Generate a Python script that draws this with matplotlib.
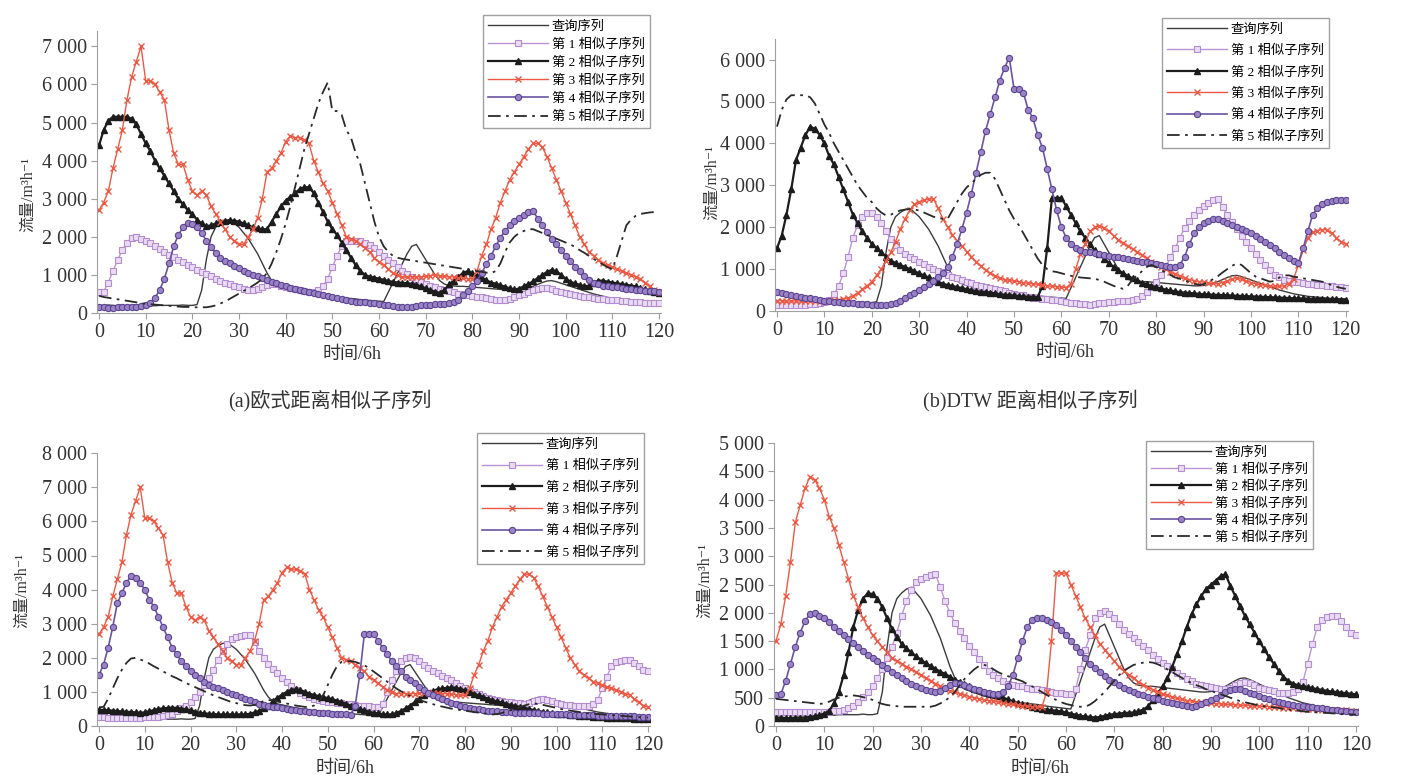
import numpy as np
import matplotlib
matplotlib.use('Agg')
import matplotlib.pyplot as plt
from matplotlib import ticker as mplticker

plt.rcParams['font.family'] = ['Liberation Serif', 'Noto Sans CJK SC', 'DejaVu Sans']

W, H = 1407, 780
t = np.arange(121)

# query sequence (same in every panel)
query = [200, 200, 210, 200, 190, 200, 200, 200, 210, 200,
         200, 200, 190, 200, 200, 200, 200, 200, 210, 200,
         200, 220, 600, 1400, 2000, 2250, 2350, 2420, 2450, 2350,
         2250, 2100, 1950, 1750, 1550, 1300, 1050, 850, 720, 650,
         620, 590, 560, 530, 510, 490, 470, 450, 440, 430,
         420, 410, 400, 390, 380, 370, 350, 340, 330, 320,
         310, 300, 550, 800, 1050, 1300, 1550, 1750, 1800, 1600,
         1400, 1200, 1000, 850, 760, 720, 710, 700, 700, 690,
         680, 670, 660, 650, 640, 630, 620, 610, 600, 600,
         610, 630, 660, 700, 750, 800, 840, 850, 820, 780,
         740, 700, 660, 620, 580, 540, 500, 470, 440, 410,
         390, 370, 350, 340, 330, 320, 310, 300, 300, 290, 290]

# candidate subsequences (several reappear in more than one panel)
sub_2000 = [550, 560, 800, 1100, 1400, 1650, 1850, 1980, 2000, 1950,
            1900, 1830, 1750, 1680, 1600, 1530, 1460, 1400, 1330, 1260,
            1200, 1140, 1080, 1020, 960, 900, 850, 800, 750, 700,
            670, 640, 610, 600, 620, 680, 730, 760, 750, 720,
            690, 660, 630, 600, 580, 560, 560, 600, 700, 900,
            1200, 1500, 1750, 1880, 1900, 1900, 1880, 1830, 1780, 1700,
            1600, 1500, 1400, 1300, 1200, 1100, 1020, 950, 880, 820,
            770, 720, 680, 640, 600, 570, 540, 510, 490, 470,
            450, 430, 410, 390, 370, 350, 340, 350, 380, 420,
            460, 500, 550, 600, 640, 660, 650, 620, 590, 560,
            530, 500, 470, 450, 430, 410, 390, 370, 360, 350,
            340, 330, 320, 310, 300, 290, 280, 270, 260, 250, 250]

sub_5100 = [4400, 4800, 5050, 5150, 5150, 5150, 5150, 5100, 4950, 4700,
            4450, 4250, 4000, 3800, 3600, 3400, 3200, 3000, 2850, 2700,
            2600, 2450, 2350, 2280, 2300, 2350, 2400, 2420, 2430, 2420,
            2400, 2350, 2300, 2250, 2220, 2200, 2200, 2400, 2600, 2800,
            2950, 3050, 3150, 3250, 3300, 3300, 3150, 2900, 2650, 2400,
            2200, 2050, 1850, 1650, 1450, 1250, 1100, 1000, 950, 930,
            900, 870, 840, 820, 800, 790, 780, 770, 740, 700,
            650, 600, 560, 530, 600, 750, 850, 950, 1050, 1100,
            1050, 980, 920, 860, 800, 770, 730, 690, 650, 620,
            640, 700, 760, 830, 920, 1000, 1080, 1130, 1100, 1000,
            900, 820, 780, 740, 700, 720, 800, 850, 850, 820,
            800, 780, 760, 740, 720, 700, 660, 620, 580, 550, 530]

sub_7000 = [2700, 2900, 3200, 3800, 4300, 4800, 5600, 6200, 6600, 7000,
            6100, 6100, 6000, 5800, 5600, 4800, 4200, 3900, 3900, 3500,
            3200, 3100, 3200, 3100, 2800, 2600, 2400, 2200, 2000, 1900,
            1800, 1800, 2000, 2200, 2500, 3000, 3700, 3800, 4000, 4200,
            4500, 4650, 4600, 4600, 4550, 4450, 4000, 3700, 3400, 3200,
            2900, 2600, 2300, 2000, 1950, 1900, 1800, 1700, 1600, 1450,
            1350, 1250, 1150, 1050, 1000, 950, 950, 950, 950, 950,
            960, 980, 1000, 970, 960, 950, 950, 930, 920, 900,
            900, 1100, 1500, 1800, 2200, 2500, 2900, 3200, 3500, 3700,
            3900, 4100, 4300, 4450, 4450, 4350, 4100, 3800, 3500, 3200,
            2900, 2600, 2300, 2000, 1800, 1600, 1500, 1400, 1300, 1250,
            1200, 1150, 1100, 1050, 1000, 950, 900, 800, 700, 600, 550]

sub_2350 = [150, 150, 140, 140, 150, 150, 150, 160, 170, 190,
            220, 270, 400, 600, 900, 1300, 1750, 2050, 2250, 2350,
            2330, 2250, 2100, 1900, 1720, 1580, 1450, 1370, 1300, 1230,
            1170, 1110, 1060, 1010, 960, 920, 870, 820, 780, 740,
            700, 660, 630, 600, 570, 550, 530, 500, 470, 440,
            410, 390, 370, 340, 320, 300, 290, 280, 270, 260,
            240, 220, 200, 180, 170, 160, 150, 160, 180, 200,
            210, 220, 230, 235, 240, 260, 290, 350, 460, 580,
            700, 850, 1050, 1280, 1500, 1750, 1980, 2150, 2300, 2420,
            2500, 2570, 2650, 2680, 2480, 2300, 2120, 1950, 1800, 1650,
            1500, 1360, 1220, 1100, 980, 870, 800, 750, 720, 700,
            690, 670, 650, 640, 620, 610, 600, 590, 580, 570, 560]

sub_6000 = [450, 420, 400, 380, 360, 340, 320, 300, 280, 260,
            240, 230, 220, 210, 200, 190, 180, 170, 160, 160,
            150, 150, 150, 150, 170, 200, 250, 300, 370, 440,
            510, 580, 650, 720, 800, 900, 1050, 1300, 1600, 1950,
            2350, 2800, 3300, 3800, 4300, 4700, 5100, 5500, 5800, 6050,
            5300, 5300, 5200, 4800, 4600, 4200, 3900, 3400, 2900, 2400,
            2000, 1750, 1600, 1500, 1450, 1420, 1400, 1380, 1360, 1340,
            1320, 1300, 1280, 1260, 1240, 1220, 1200, 1180, 1160, 1140,
            1120, 1100, 1080, 1060, 1050, 1100, 1300, 1600, 1850, 2000,
            2100, 2150, 2200, 2200, 2150, 2100, 2050, 2000, 1950, 1900,
            1850, 1800, 1730, 1650, 1580, 1500, 1420, 1340, 1270, 1200,
            1150, 1500, 1900, 2300, 2450, 2550, 2600, 2620, 2640, 2650, 2650]

sub_4400 = [1500, 1800, 2300, 2900, 3600, 3900, 4200, 4400, 4350, 4200,
            4000, 3700, 3500, 3200, 2900, 2600, 2300, 2100, 1900, 1750,
            1600, 1500, 1400, 1300, 1200, 1150, 1100, 1050, 1000, 950,
            900, 850, 800, 750, 700, 650, 620, 600, 570, 550,
            520, 500, 480, 460, 450, 440, 420, 400, 390, 380,
            370, 360, 350, 340, 340, 330, 600, 1500, 2700, 2700,
            2700, 2500, 2300, 2100, 1900, 1750, 1600, 1450, 1350, 1250,
            1150, 1050, 980, 900, 840, 780, 730, 680, 640, 600,
            570, 540, 510, 490, 470, 450, 440, 430, 420, 410,
            400, 395, 390, 385, 380, 375, 370, 365, 360, 355,
            350, 345, 340, 335, 330, 325, 320, 315, 310, 305,
            300, 300, 295, 290, 290, 285, 280, 280, 275, 270, 270]

sub_2650 = [250, 250, 240, 240, 240, 240, 240, 240, 240, 240,
            250, 250, 260, 270, 280, 310, 360, 430, 520, 600,
            700, 850, 1000, 1200, 1400, 1650, 1950, 2200, 2400, 2550,
            2600, 2640, 2670, 2680, 2450, 2200, 2000, 1820, 1680, 1550,
            1420, 1300, 1180, 1070, 970, 900, 840, 790, 750, 730,
            710, 700, 680, 660, 650, 640, 620, 600, 590, 580,
            570, 560, 650, 1000, 1350, 1600, 1900, 2000, 2030, 1980,
            1900, 1800, 1700, 1620, 1550, 1480, 1410, 1340, 1260, 1180,
            1120, 1060, 1000, 940, 880, 830, 790, 750, 720, 700,
            690, 670, 660, 650, 680, 720, 760, 780, 760, 720,
            680, 650, 630, 610, 590, 590, 590, 600, 650, 770,
            1100, 1450, 1750, 1880, 1920, 1940, 1940, 1850, 1750, 1650, 1600]

sub_1100 = [480, 470, 460, 450, 440, 430, 420, 410, 400, 390,
            400, 430, 470, 500, 520, 530, 540, 530, 510, 490,
            460, 420, 390, 370, 360, 350, 340, 340, 340, 340,
            340, 340, 340, 360, 400, 440, 520, 600, 720, 830,
            920, 1000, 1060, 1080, 1060, 1000, 950, 910, 880, 850,
            820, 790, 740, 700, 650, 600, 550, 500, 460, 420,
            390, 370, 350, 340, 340, 380, 440, 520, 600, 700,
            800, 900, 980, 1030, 1080, 1100, 1120, 1130, 1120, 1090,
            1050, 1000, 950, 900, 850, 800, 760, 720, 690, 650,
            620, 590, 560, 530, 500, 470, 440, 420, 400, 380,
            360, 350, 340, 330, 320, 300, 290, 280, 270, 260,
            250, 245, 240, 235, 230, 225, 220, 215, 210, 205, 200]

labels = ['查询序列', '第 1 相似子序列', '第 2 相似子序列',
          '第 3 相似子序列', '第 4 相似子序列', '第 5 相似子序列']

styles = [
    dict(color='#3c3c3c', lw=1.0),
    dict(color='#b995d6', lw=1.0, marker='s', ms=4, mfc='#e9dcf3', mec='#b48cd2', mew=0.8),
    dict(color='#1c1c1c', lw=1.6, marker='^', ms=4.5, mfc='#1c1c1c', mec='#1c1c1c'),
    dict(color='#ec5a45', lw=1.0, marker='x', ms=4.5, mew=1.0),
    dict(color='#6b54a3', lw=1.2, marker='o', ms=4.5, mfc='#9a83c4', mec='#5b4393', mew=0.8),
    dict(color='#2a2a2a', lw=1.3, ls=(0, (7, 3, 1.5, 3))),
]

# x0 px of t=0, px per step, y0 px of 0, px per 1000, ymax, ytick step, legend top-left px
panels = [
    dict(series=[query, sub_2000, sub_5100, sub_7000, sub_2350, sub_6000],
         x0=99, dx=4.667, y0=313, dy=38.1, ymax=7400, ystep=1000,
         leg=(483, 15), legsp=0.43, ylab=(28, 195), xlab=(352, 355)),
    dict(series=[query, sub_2350, sub_4400, sub_2650, sub_6000, sub_5100],
         x0=777, dx=4.74, y0=311, dy=41.9, ymax=6500, ystep=1000,
         leg=(1162, 18), legsp=0.68, ylab=(712, 182), xlab=(1065, 353)),
    dict(series=[query, sub_2650, sub_1100, sub_7000, sub_4400, sub_2000],
         x0=99, dx=4.575, y0=726, dy=34.1, ymax=8000, ystep=1000,
         leg=(477, 433), legsp=0.7, ylab=(22, 590), xlab=(345, 768)),
    dict(series=[query, sub_2650, sub_2350, sub_4400, sub_2000, sub_1100],
         x0=776, dx=4.833, y0=726, dy=56.6, ymax=5000, ystep=500,
         leg=(1146, 441), legsp=0.35, ylab=(705, 580), xlab=(1040, 768)),
]

fig = plt.figure(figsize=(W / 100, H / 100), dpi=100)

for p in panels:
  left = (p['x0'] - 0.5 * p['dx']) / W
  width = 121 * p['dx'] / W
  bottom = (H - p['y0']) / H
  height = p['ymax'] / 1000 * p['dy'] / H
  ax = fig.add_axes([left, bottom, width, height])

  for vals, lab, st in zip(p['series'], labels, styles):
    ax.plot(t, vals, label=lab, **st)

  ax.set_xlim(-0.5, 120.5)
  ax.set_ylim(0, p['ymax'])
  ax.set_xticks(range(0, 121, 10))
  ax.yaxis.set_major_locator(mplticker.MultipleLocator(p['ystep']))
  ax.yaxis.set_major_formatter(mplticker.FuncFormatter(lambda y, _: '{:,.0f}'.format(y).replace(',', ' ')))
  for s in ['top', 'right']:
    ax.spines[s].set_visible(False)
  for s in ['left', 'bottom']:
    ax.spines[s].set_color('#a0a0a0')
  ax.tick_params(direction='out', length=4, color='#a0a0a0', labelsize=14.5, labelcolor='#333333', pad=3)

  lx, ly = p['leg']
  ax.legend(loc='upper left', bbox_to_anchor=(lx / W, 1 - ly / H), bbox_transform=fig.transFigure,
            fontsize=9.5, frameon=True, fancybox=False, edgecolor='#a0a0a0', framealpha=1,
            handlelength=4.5, numpoints=1, labelspacing=p['legsp'], borderpad=0.4, handletextpad=0.3,
            borderaxespad=0)

  fig.text(p['ylab'][0] / W, 1 - p['ylab'][1] / H, '流量/m³h⁻¹', rotation=90, ha='center', va='center',
           fontsize=11.5, color='#333333')
  fig.text(p['xlab'][0] / W, 1 - p['xlab'][1] / H, '时间/6h', ha='center', va='center',
           fontsize=13, color='#333333')

fig.text(330 / W, 1 - 401 / H, '(a)欧式距离相似子序列', ha='center', va='center', fontsize=14.5, color='#333333')
fig.text(1030 / W, 1 - 401 / H, '(b)DTW 距离相似子序列', ha='center', va='center', fontsize=14.5, color='#333333')

fig.savefig('out.png', dpi=100)
